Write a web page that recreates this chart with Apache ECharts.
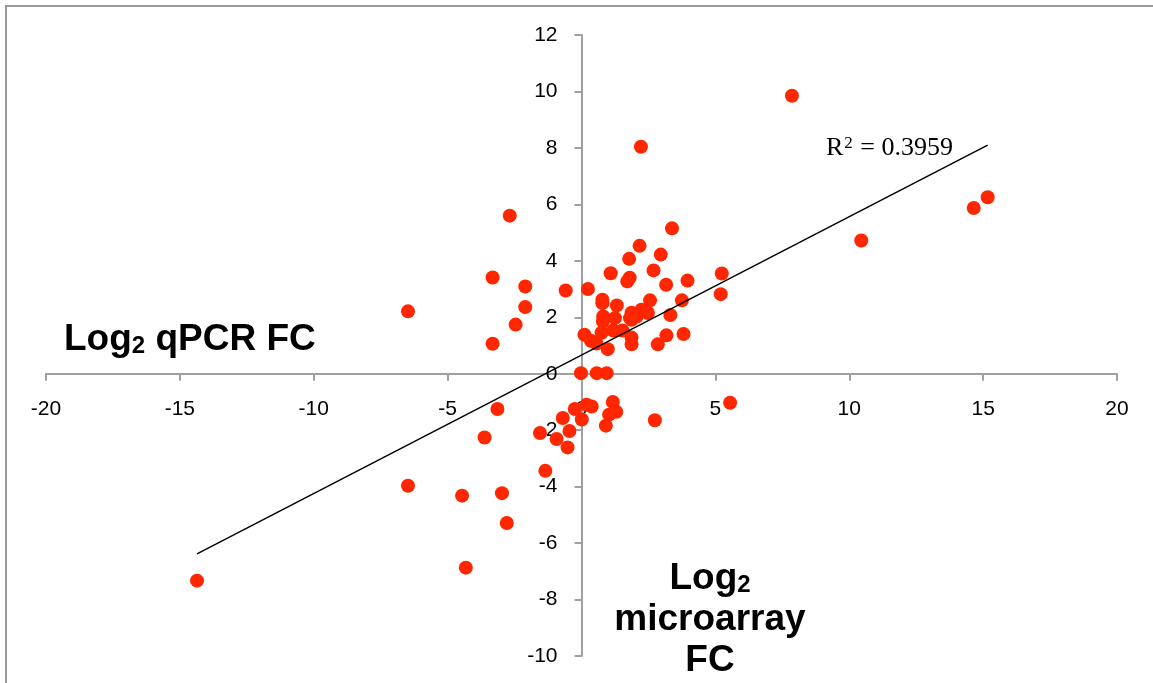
<!DOCTYPE html>
<html>
<head>
<meta charset="utf-8">
<script src="https://cdn.jsdelivr.net/npm/echarts@6/dist/echarts.min.js"></script>
<style>
html,body{margin:0;padding:0;background:#fff;}
#chart{width:1153px;height:683px;}
</style>
</head>
<body>
<div id="chart"></div>
<script>
// Log2 microarray fold change (x) vs Log2 qPCR fold change (y)
const microarrayFC = [
  7.86, 2.22, 10.45, 14.65, 15.17, -2.68, -6.48, -3.32, -3.32, -2.10,
  -2.10, -2.46, -0.59, 0.24, 3.38, 2.17, 1.78, 2.96, 1.09, 1.80,
  1.71, 2.69, 3.16, 3.96, 5.24, 5.20, 0.78, 0.78, 1.32, 2.56,
  3.75, 0.81, 0.80, 1.25, 1.87, 2.24, 2.48, 1.81, 2.06, 1.87,
  3.32, 0.11, 0.35, 0.56, 0.75, 0.98, 1.19, 1.53, 1.87, 1.87,
  2.85, 3.17, 3.81, -0.02, 0.57, 0.94,
  -14.36, 5.55, 2.74, -3.14, -3.62, -6.48, -4.46, -2.97, -2.79, -4.32,
  -1.35, -1.55, -0.93, -0.70, -0.45, -0.52, -0.25, 0.01, 0.19, 0.38,
  1.17, 1.03, 1.30, 0.91
];
const qpcrFC = [
  9.85, 8.04, 4.72, 5.87, 6.25, 5.60, 2.21, 3.41, 1.06, 3.09,
  2.36, 1.74, 2.95, 3.00, 5.15, 4.53, 4.07, 4.22, 3.56, 3.40,
  3.27, 3.66, 3.15, 3.30, 3.55, 2.82, 2.62, 2.50, 2.42, 2.60,
  2.60, 2.03, 1.85, 1.97, 2.16, 2.27, 2.15, 1.97, 2.03, 1.91,
  2.08, 1.38, 1.17, 1.07, 1.45, 0.87, 1.53, 1.53, 1.28, 1.04,
  1.04, 1.36, 1.41, 0.02, 0.02, 0.02,
  -7.33, -1.03, -1.65, -1.25, -2.26, -3.97, -4.32, -4.23, -5.29, -6.87,
  -3.44, -2.10, -2.31, -1.57, -2.03, -2.61, -1.25, -1.62, -1.10, -1.16,
  -1.00, -1.45, -1.35, -1.84
];
const xTicks = [-20, -15, -10, -5, 0, 5, 10, 15, 20];
const yTicks = [-10, -8, -6, -4, -2, 0, 2, 4, 6, 8, 10, 12];
const r2Value = '0.3959';

const points = microarrayFC.map((x, i) => [x, qpcrFC[i]]);

// least-squares trend line
const n = points.length;
let sx = 0, sy = 0, sxx = 0, sxy = 0;
points.forEach(([x, y]) => { sx += x; sy += y; sxx += x * x; sxy += x * y; });
const slope = (n * sxy - sx * sy) / (n * sxx - sx * sx);
const intercept = (sy - slope * sx) / n;
const xMin = Math.min(...microarrayFC), xMax = Math.max(...microarrayFC);
const trend = [[xMin, intercept + slope * xMin], [xMax, intercept + slope * xMax]];

const W = 1153, H = 683;
const grid = { left: 46, right: 36, top: 35, bottom: 27 };
const gw = W - grid.left - grid.right, gh = H - grid.top - grid.bottom;
const xLo = xTicks[0], xHi = xTicks[xTicks.length - 1];
const yLo = yTicks[0], yHi = yTicks[yTicks.length - 1];
// axes cross at zero: shift them from the grid edges
const xAxisOffset = -((0 - yLo) / (yHi - yLo)) * gh;
const yAxisOffset = -((0 - xLo) / (xHi - xLo)) * gw;

const chart = echarts.init(document.getElementById('chart'));
const axisColor = '#a0a0a0';
const font = 'Liberation Sans, Arial';
chart.setOption({
  animation: false,
  backgroundColor: '#ffffff',
  grid: Object.assign({ containLabel: false }, grid),
  xAxis: {
    type: 'value', position: 'bottom', offset: xAxisOffset,
    min: xLo, max: xHi, interval: 5,
    axisLine: { onZero: false, lineStyle: { color: axisColor, width: 2 } },
    axisTick: { show: true, length: 7, lineStyle: { color: axisColor, width: 2 } },
    axisLabel: { color: '#000', fontSize: 21, fontFamily: font, margin: 25 },
    splitLine: { show: false }
  },
  yAxis: {
    type: 'value', position: 'left', offset: yAxisOffset,
    min: yLo, max: yHi, interval: 2,
    axisLine: { onZero: false, lineStyle: { color: axisColor, width: 2 } },
    axisTick: { show: true, length: 7, lineStyle: { color: axisColor, width: 2 } },
    axisLabel: { color: '#000', fontSize: 21, fontFamily: font, margin: 24 },
    splitLine: { show: false }
  },
  series: [
    {
      type: 'scatter',
      data: points,
      symbol: 'circle',
      symbolSize: 14,
      itemStyle: { color: '#ff2600', opacity: 1 },
      z: 3
    },
    {
      type: 'line',
      data: trend,
      showSymbol: false,
      symbol: 'none',
      lineStyle: { color: '#000', width: 1.5 },
      z: 4,
      silent: true
    }
  ],
  graphic: [
    {
      type: 'rect', silent: true,
      shape: { x: 6, y: 6, width: 1200, height: 800 },
      style: { fill: 'none', stroke: '#9a9a9a', lineWidth: 2 }
    },
    {
      type: 'text', left: 64, top: 321,
      style: {
        text: '{b|Log}{s|2}{b| qPCR FC}',
        rich: {
          b: { fontSize: 37, fontWeight: 'bold', fontFamily: font, fill: '#000', verticalAlign: 'bottom' },
          s: { fontSize: 24, fontWeight: 'bold', fontFamily: font, fill: '#000', verticalAlign: 'bottom', padding: [12, 0, 0, 0] }
        }
      }
    },
    {
      type: 'text', x: 710, y: 556,
      style: {
        text: '{b|Log}{s|2}\n{b|microarray}\n{b|FC}',
        align: 'center',
        rich: {
          b: { fontSize: 37, fontWeight: 'bold', fontFamily: font, fill: '#000', lineHeight: 41, align: 'center', verticalAlign: 'bottom' },
          s: { fontSize: 24, fontWeight: 'bold', fontFamily: font, fill: '#000', lineHeight: 41, verticalAlign: 'bottom', padding: [12, 0, 0, 0] }
        }
      }
    },
    {
      type: 'text', x: 826, y: 135,
      style: {
        text: '{n|R}{p|2}{n| = ' + r2Value + '}',
        rich: {
          n: { fontSize: 26, fontFamily: 'Liberation Serif, DejaVu Serif, serif', fill: '#000', verticalAlign: 'bottom' },
          p: { fontSize: 17, fontFamily: 'Liberation Serif, DejaVu Serif, serif', fill: '#000', verticalAlign: 'bottom', padding: [0, 1, 9, 1] }
        }
      }
    }
  ]
});
</script>
</body>
</html>
